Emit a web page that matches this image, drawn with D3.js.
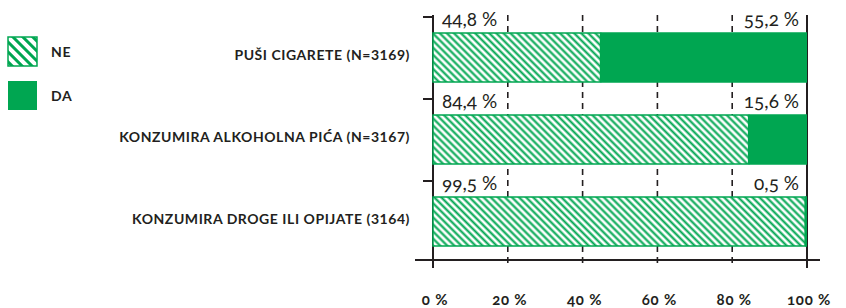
<!DOCTYPE html>
<html>
<head>
<meta charset="utf-8">
<script src="https://cdn.jsdelivr.net/npm/d3@7"></script>
<style>
  body { margin: 0; background: #fff; }
  svg text { font-family: Lato, "Open Sans", sans-serif; fill: #231f20; }
  .cat { font-weight: 700; font-size: 14px; letter-spacing: 0.55px; }
  .val { font-size: 19px; font-variant-numeric: oldstyle-nums; }
  .tick-lbl { font-weight: 700; font-size: 15px; letter-spacing: 0.8px; font-variant-numeric: oldstyle-nums; }
  .leg { font-weight: 700; font-size: 14px; letter-spacing: 0.6px; }
</style>
</head>
<body>
<div id="chart"></div>
<script>
var categories = ["PUŠI CIGARETE (N=3169)", "KONZUMIRA ALKOHOLNA PIĆA (N=3167)", "KONZUMIRA DROGE ILI OPIJATE (3164)"];
var ne_values = [44.8, 84.4, 99.5];
var da_values = [55.2, 15.6, 0.5];
var ne_labels = ["44,8 %", "84,4 %", "99,5 %"];
var da_labels = ["55,2 %", "15,6 %", "0,5 %"];
var x_ticks = [0, 20, 40, 60, 80, 100];
var legend_items = ["NE", "DA"];

var width = 846, height = 308,
    green = "#00a651", ink = "#231f20";

var svg = d3.select("#chart").append("svg")
    .attr("width", width)
    .attr("height", height);

var defs = svg.append("defs");
function hatch(id, size, lw){
    var p = defs.append("pattern")
        .attr("id", id)
        .attr("patternUnits", "userSpaceOnUse")
        .attr("width", size).attr("height", size)
        .attr("patternTransform", "rotate(-45)");
    p.append("rect").attr("width", size).attr("height", size).attr("fill", "#fff");
    p.append("line")
        .attr("x1", size/2).attr("x2", size/2)
        .attr("y1", 0).attr("y2", size)
        .attr("stroke", green).attr("stroke-width", lw);
}
hatch("hatch", 5, 2.1);
hatch("hatch_leg", 7, 3);

var x = d3.scaleLinear().domain([0, 100]).range([433, 807]);
var y = d3.scaleBand().domain(categories).range([17, 263]);
var axis_y = 260, bar_off = 16, bar_h = 49;

// gridlines (dashed inside, solid at the ends)
svg.selectAll(".grid")
    .data(x_ticks)
    .enter().append("line")
    .attr("class", "grid")
    .attr("x1", d => x(d)).attr("x2", d => x(d))
    .attr("y1", 15).attr("y2", axis_y + 8)
    .attr("stroke", ink)
    .attr("stroke-width", d => (d == 0 || d == 100) ? 2 : 1.6)
    .attr("stroke-dasharray", d => (d == 0 || d == 100) ? null : "6,5");

// x axis line
svg.append("line")
    .attr("x1", 415).attr("x2", 820)
    .attr("y1", axis_y).attr("y2", axis_y)
    .attr("stroke", ink).attr("stroke-width", 2);

// y ticks
svg.selectAll(".ytick")
    .data(categories)
    .enter().append("line")
    .attr("x1", x(0) - 10).attr("x2", x(0))
    .attr("y1", d => y(d)).attr("y2", d => y(d))
    .attr("stroke", ink).attr("stroke-width", 2);

var rows = categories.map((c, i) => ({cat: c, ne: ne_values[i], da: da_values[i], ne_l: ne_labels[i], da_l: da_labels[i]}));

var g = svg.selectAll(".row").data(rows).enter().append("g");

g.append("rect")
    .attr("x", x(0))
    .attr("y", d => y(d.cat) + bar_off)
    .attr("width", d => x(d.ne) - x(0))
    .attr("height", bar_h)
    .attr("fill", "url(#hatch)")
    .attr("stroke", green).attr("stroke-width", 1.5);

g.append("rect")
    .attr("x", d => x(d.ne))
    .attr("y", d => y(d.cat) + bar_off - 0.75)
    .attr("width", d => x(100) - x(d.ne))
    .attr("height", bar_h + 1.5)
    .attr("fill", green);

g.append("text")
    .attr("class", "val")
    .attr("x", x(0) + 9)
    .attr("y", d => y(d.cat) + bar_off - 7)
    .text(d => d.ne_l);

g.append("text")
    .attr("class", "val")
    .attr("text-anchor", "end")
    .attr("x", x(100) - 8)
    .attr("y", d => y(d.cat) + bar_off - 7)
    .text(d => d.da_l);

g.append("text")
    .attr("class", "cat")
    .attr("text-anchor", "end")
    .attr("x", 410)
    .attr("y", d => y(d.cat) + bar_off + bar_h/2 - 2)
    .attr("dy", "0.35em")
    .text(d => d.cat);

// x tick labels
svg.selectAll(".tick-lbl")
    .data(x_ticks)
    .enter().append("text")
    .attr("class", "tick-lbl")
    .attr("text-anchor", "middle")
    .attr("x", d => x(d) + 2)
    .attr("y", 305)
    .text(d => d + " %");

// legend
var leg = svg.selectAll(".legend")
    .data(legend_items)
    .enter().append("g")
    .attr("transform", (d, i) => `translate(8, ${37 + i*44})`);
leg.append("rect")
    .attr("width", 29).attr("height", 29)
    .attr("fill", (d, i) => i == 0 ? "url(#hatch_leg)" : green)
    .attr("stroke", green).attr("stroke-width", (d, i) => i == 0 ? 1.5 : 0);
leg.append("text")
    .attr("class", "leg")
    .attr("x", 43).attr("y", 15)
    .attr("dy", "0.35em")
    .text(d => d);
</script>
</body>
</html>
